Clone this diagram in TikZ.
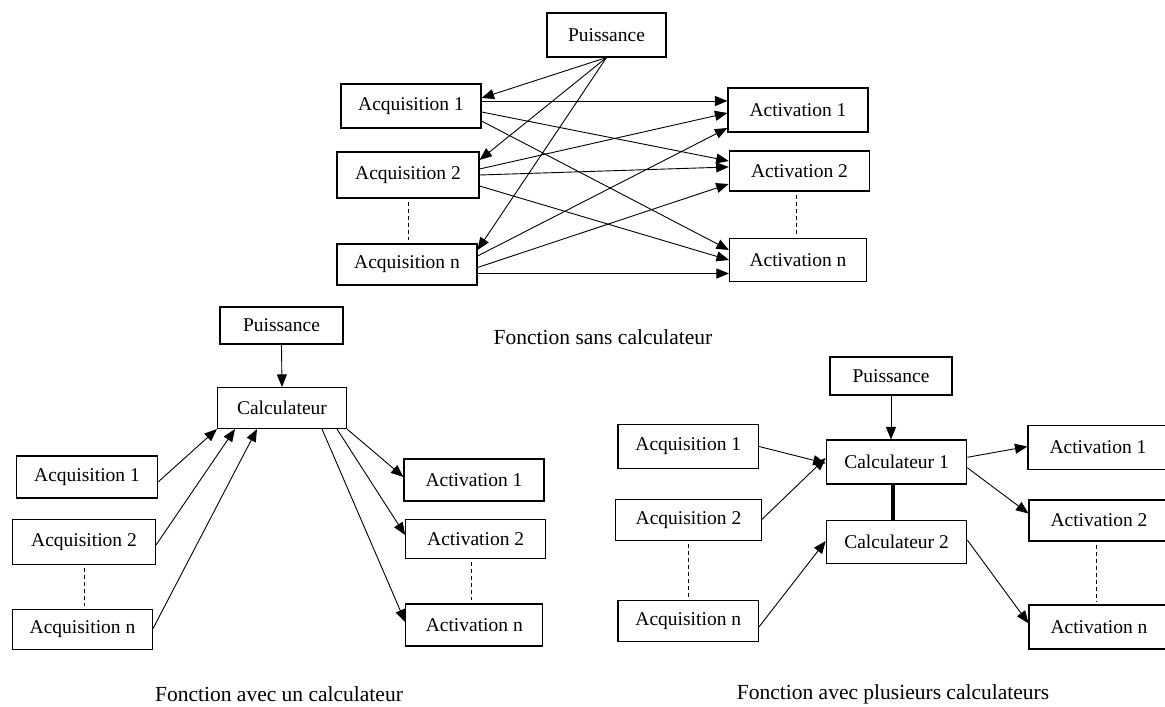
\documentclass[tikz,border=0pt]{standalone}
\usepackage{fontspec}
\setmainfont{Liberation Serif}
\usetikzlibrary{arrows.meta}
\tikzset{
  box/.style={draw, line width=1.1pt, inner sep=0pt, font=\fontsize{19.5}{22}\selectfont},
  captext/.style={inner sep=0pt, font=\fontsize{21.5}{24}\selectfont},
  arr/.style={line width=0.9pt, -{Triangle[length=12.5pt,width=10pt]}},
  dashline/.style={line width=0.9pt, dash pattern=on 4pt off 3pt, shorten <=3pt, shorten >=3pt},
  thicklink/.style={line width=3.4pt}
}
\begin{document}
\begin{tikzpicture}[x=1pt,y=-1pt]
\useasboundingbox (0,0) rectangle (1165,707);
\clip (0,0) rectangle (1165,707);
% ---------- top: sans calculateur
\node[box, minimum width=119pt, minimum height=44pt] (P0) at (606.5,35) {Puissance};
\node[box, minimum width=140pt, minimum height=44pt] (A01) at (411,106) {Acquisition 1};
\node[box, minimum width=142pt, minimum height=46pt] (A02) at (408,175) {Acquisition 2};
\node[box, minimum width=140pt, minimum height=41pt] (A0n) at (407,264.5) {Acquisition n};
\node[box, minimum width=140pt, minimum height=44pt] (T01) at (798,110) {Activation 1};
\node[box, minimum width=140.5pt, minimum height=40pt] (T02) at (799.5,171) {Activation 2};
\node[box, minimum width=137pt, minimum height=43pt] (T0n) at (798,260) {Activation n};
\node[captext] (cap0) at (603,337) {Fonction sans calculateur};

\draw[arr] (P0.south) -- ([yshift=8pt]A01.east);
\draw[arr] (P0.south) -- ([yshift=15pt]A02.east);
\draw[arr] (P0.south) -- ([yshift=14.5pt]A0n.east);
\draw[arr] ([yshift=5pt]A01.east) -- ([yshift=9pt]T01.west);
\draw[arr] ([yshift=-6pt]A01.east) -- ([yshift=10pt]T02.west);
\draw[arr] ([yshift=-15pt]A01.east) -- ([yshift=10pt]T0n.west);
\draw[arr] ([yshift=6pt]A02.east) -- ([yshift=-3pt]T01.west);
\draw[arr] (A02.east) -- ([yshift=4pt]T02.west);
\draw[arr] ([yshift=-11pt]A02.east) -- (T0n.west);
\draw[arr] ([yshift=8.5pt]A0n.east) -- ([yshift=-18pt]T01.west);
\draw[arr] ([yshift=-3pt]A0n.east) -- ([yshift=-13pt]T02.west);
\draw[arr] ([yshift=-9pt]A0n.east) -- ([yshift=-13.5pt]T0n.west);
\draw[dashline] (A02.south) -- (A02.south |- A0n.north);
\draw[dashline] ([xshift=-3pt]T02.south) -- ([xshift=-3pt]T02.south |- T0n.north);

% ---------- bottom left: un calculateur
\node[box, minimum width=123pt, minimum height=37pt] (P1) at (281.5,325.5) {Puissance};
\node[box, minimum width=129pt, minimum height=41pt] (C1) at (282,408) {Calculateur};
\node[box, minimum width=141pt, minimum height=42pt] (A11) at (87,477) {Acquisition 1};
\node[box, minimum width=143pt, minimum height=45pt] (A12) at (84,542) {Acquisition 2};
\node[box, minimum width=140pt, minimum height=40pt] (A1n) at (82.5,629.5) {Acquisition n};
\node[box, minimum width=140pt, minimum height=42pt] (T11) at (474,480) {Activation 1};
\node[box, minimum width=140pt, minimum height=39pt] (T12) at (475.7,539) {Activation 2};
\node[box, minimum width=137pt, minimum height=42pt] (T1n) at (474.3,625) {Activation n};
\node[captext] (cap1) at (279,694) {Fonction avec un calculateur};

\draw[arr] (P1.south) -- (C1.north);
\draw[arr] ([yshift=-5pt]A11.east) -- (C1.south west);
\draw[arr] ([yshift=-3pt]A12.east) -- ([xshift=-47pt]C1.south);
\draw[arr] ([yshift=1pt]A1n.east) -- ([xshift=-25pt]C1.south);
\draw[arr] (C1.south east) -- ([yshift=3pt]T11.west);
\draw[arr] ([xshift=55pt]C1.south) -- ([yshift=4pt]T12.west);
\draw[arr] ([xshift=40pt]C1.south) -- ([yshift=3pt]T1n.west);
\draw[dashline] (A12.south) -- (A12.south |- A1n.north);
\draw[dashline] ([xshift=-4pt]T12.south) -- ([xshift=-4pt]T12.south |- T1n.north);

% ---------- bottom right: plusieurs calculateurs
\node[box, minimum width=122pt, minimum height=38pt] (P2) at (891,376) {Puissance};
\node[box, minimum width=140.5pt, minimum height=44pt] (C21) at (896.5,462) {Calculateur 1};
\node[box, minimum width=140.5pt, minimum height=43pt] (C22) at (896.5,542.3) {Calculateur 2};
\node[box, minimum width=140.6pt, minimum height=44pt] (A21) at (688.3,446.5) {Acquisition 1};
\node[box, minimum width=146pt, minimum height=41pt] (A22) at (688.5,520) {Acquisition 2};
\node[box, minimum width=140.6pt, minimum height=41pt] (A2n) at (688.3,621.3) {Acquisition n};
\node[box, minimum width=140pt, minimum height=44pt] (T21) at (1098,447.5) {Activation 1};
\node[box, minimum width=140pt, minimum height=41pt] (T22) at (1099,520.5) {Activation 2};
\node[box, minimum width=140pt, minimum height=44pt] (T2n) at (1099,627) {Activation n};
\node[captext] (cap2) at (893,694) {Fonction avec plusieurs calculateurs};

\draw[arr] (P2.south) -- (P2.south |- C21.north);
\draw[thicklink] ([xshift=-3.5pt]C21.south) -- ([xshift=-3.5pt]C22.north);
\draw[arr] (A21.east) -- ([yshift=-1.3pt]C21.west);
\draw[arr] ([yshift=0.7pt]A22.east) -- ([yshift=4pt]C21.west);
\draw[arr] ([yshift=-5.4pt]A2n.east) -- ([yshift=1.3pt]C22.west);
\draw[arr] ([yshift=4.7pt]C21.east) -- ([yshift=1pt]T21.west);
\draw[arr] ([yshift=-5.7pt]C21.east) -- ([yshift=7pt]T22.west);
\draw[arr] ([yshift=2.3pt]C22.east) -- ([yshift=3.7pt]T2n.west);
\draw[dashline] (A22.south) -- (A22.south |- A2n.north);
\draw[dashline] ([xshift=-3pt]T22.south) -- ([xshift=-3pt]T22.south |- T2n.north);
\end{tikzpicture}
\end{document}
